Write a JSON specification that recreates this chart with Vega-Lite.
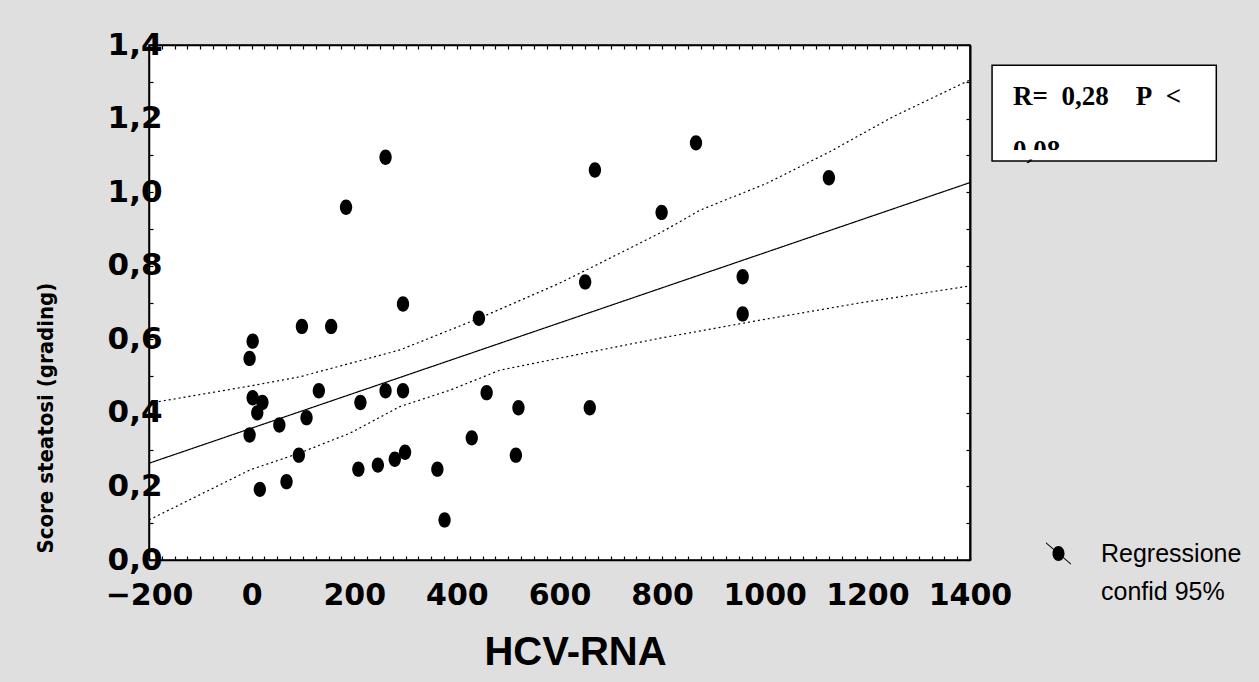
{
  "$schema": "https://vega.github.io/schema/vega-lite/v6.json",
  "width": 821,
  "height": 515,
  "autosize": {"type": "none"},
  "padding": {"left": 149, "top": 45, "right": 289, "bottom": 122},
  "background": "#dfdfdf",
  "config": {"view": {"fill": "white", "stroke": "black", "strokeWidth": 1.5}},
  "datasets": {
    "points": [
      {"x": 2, "y": 0.441}, {"x": 21, "y": 0.428}, {"x": 11, "y": 0.400}, {"x": -4, "y": 0.340},
      {"x": 16, "y": 0.192}, {"x": 2, "y": 0.595}, {"x": -4, "y": 0.548}, {"x": 54, "y": 0.367},
      {"x": 68, "y": 0.213}, {"x": 92, "y": 0.285}, {"x": 107, "y": 0.387}, {"x": 98, "y": 0.635},
      {"x": 131, "y": 0.460}, {"x": 155, "y": 0.635}, {"x": 184, "y": 0.959}, {"x": 208, "y": 0.247},
      {"x": 212, "y": 0.428}, {"x": 246, "y": 0.258}, {"x": 261, "y": 1.095}, {"x": 261, "y": 0.460},
      {"x": 279, "y": 0.274}, {"x": 299, "y": 0.293}, {"x": 295, "y": 0.696}, {"x": 295, "y": 0.460},
      {"x": 362, "y": 0.247}, {"x": 376, "y": 0.109}, {"x": 429, "y": 0.332}, {"x": 443, "y": 0.657},
      {"x": 458, "y": 0.455}, {"x": 515, "y": 0.285}, {"x": 520, "y": 0.414}, {"x": 669, "y": 1.060},
      {"x": 866, "y": 1.134}, {"x": 799, "y": 0.945}, {"x": 1125, "y": 1.039}, {"x": 650, "y": 0.756},
      {"x": 957, "y": 0.770}, {"x": 957, "y": 0.669}, {"x": 659, "y": 0.414}
    ],
    "curves": [
      {"serie": "fit", "x": -200, "y": 0.263}, {"serie": "fit", "x": 1400, "y": 1.026},
      {"serie": "upper", "x": -200, "y": 0.426}, {"serie": "upper", "x": -3, "y": 0.473},
      {"serie": "upper", "x": 94, "y": 0.498}, {"serie": "upper", "x": 289, "y": 0.571},
      {"serie": "upper", "x": 445, "y": 0.658}, {"serie": "upper", "x": 601, "y": 0.753},
      {"serie": "upper", "x": 679, "y": 0.807}, {"serie": "upper", "x": 796, "y": 0.889},
      {"serie": "upper", "x": 874, "y": 0.951}, {"serie": "upper", "x": 1004, "y": 1.024},
      {"serie": "upper", "x": 1127, "y": 1.110}, {"serie": "upper", "x": 1250, "y": 1.205},
      {"serie": "upper", "x": 1400, "y": 1.305},
      {"serie": "lower", "x": -200, "y": 0.109}, {"serie": "lower", "x": -3, "y": 0.245},
      {"serie": "lower", "x": 94, "y": 0.291}, {"serie": "lower", "x": 192, "y": 0.345},
      {"serie": "lower", "x": 289, "y": 0.417}, {"serie": "lower", "x": 387, "y": 0.462},
      {"serie": "lower", "x": 484, "y": 0.516}, {"serie": "lower", "x": 601, "y": 0.549},
      {"serie": "lower", "x": 796, "y": 0.603}, {"serie": "lower", "x": 991, "y": 0.652},
      {"serie": "lower", "x": 1186, "y": 0.699}, {"serie": "lower", "x": 1400, "y": 0.745}
    ]
  },
  "resolve": {"axis": {"x": "independent", "y": "independent"}},
  "layer": [
    {
      "data": {"name": "points"},
      "mark": {"type": "point", "shape": "M-0.8,0A0.8,1,0,1,1,0.8,0A0.8,1,0,1,1,-0.8,0Z", "filled": true, "color": "black", "size": 237, "opacity": 1},
      "encoding": {
        "x": {
          "field": "x", "type": "quantitative",
          "scale": {"domain": [-200, 1400], "nice": false, "zero": false},
          "axis": {
            "orient": "bottom",
            "values": [-200,-175,-150,-125,-100,-75,-50,-25,0,25,50,75,100,125,150,175,200,225,250,275,300,325,350,375,400,425,450,475,500,525,550,575,600,625,650,675,700,725,750,775,800,825,850,875,900,925,950,975,1000,1025,1050,1075,1100,1125,1150,1175,1200,1225,1250,1275,1300,1325,1350,1375,1400],
            "labelExpr": "datum.value % 200 == 0 ? format(datum.value, 'd') : ''",
            "labelOverlap": false, "labelBound": false, "labelFlush": false,
            "labelFont": "DejaVu Sans", "labelFontSize": 30, "labelFontWeight": "bold", "labelColor": "black",
            "labelPadding": 24, "labelDx": 6,
            "tickSize": -4, "tickColor": "black", "tickWidth": 1.2,
            "domainColor": "black", "domainWidth": 1.5, "grid": false,
            "title": "HCV-RNA", "titleFont": "Liberation Sans", "titleFontSize": 40, "titleFontWeight": "bold",
            "titleColor": "black", "titleY": 92, "titleX": 426, "titleBaseline": "middle"
          }
        },
        "y": {
          "field": "y", "type": "quantitative",
          "scale": {"domain": [0, 1.4], "nice": false, "zero": false},
          "axis": {
            "orient": "left",
            "values": [0, 0.1, 0.2, 0.3, 0.4, 0.5, 0.6, 0.7, 0.8, 0.9, 1.0, 1.1, 1.2, 1.3, 1.4],
            "labelExpr": "round(datum.value * 10) % 2 == 0 ? replace(format(datum.value, '.1f'), '.', ',') : ''",
            "labelOverlap": false, "labelBound": false, "labelFlush": false,
            "labelFont": "DejaVu Sans", "labelFontSize": 31, "labelFontWeight": "bold", "labelColor": "black",
            "labelPadding": -9,
            "tickSize": -4, "tickColor": "black", "tickWidth": 1.2,
            "domainColor": "black", "domainWidth": 1.5, "grid": false,
            "title": "Score steatosi (grading)", "titleFont": "DejaVu Sans Condensed, Liberation Sans", "titleFontSize": 22,
            "titleFontWeight": "bold", "titleColor": "black", "titleAnchor": "start", "titleX": -104, "titleY": 508, "titleBaseline": "middle"
          }
        }
      }
    },
    {
      "data": {"name": "curves"},
      "mark": {"type": "line", "color": "black", "strokeWidth": 1.2},
      "encoding": {
        "x": {
          "field": "x", "type": "quantitative",
          "scale": {"domain": [-200, 1400], "nice": false, "zero": false},
          "axis": {
            "orient": "top", "labels": false, "title": null, "grid": false,
            "values": [-200,-175,-150,-125,-100,-75,-50,-25,0,25,50,75,100,125,150,175,200,225,250,275,300,325,350,375,400,425,450,475,500,525,550,575,600,625,650,675,700,725,750,775,800,825,850,875,900,925,950,975,1000,1025,1050,1075,1100,1125,1150,1175,1200,1225,1250,1275,1300,1325,1350,1375,1400],
            "tickSize": -4, "tickColor": "black", "tickWidth": 1.2, "domainColor": "black", "domainWidth": 1.5
          }
        },
        "y": {
          "field": "y", "type": "quantitative",
          "scale": {"domain": [0, 1.4], "nice": false, "zero": false},
          "axis": {
            "orient": "right", "labels": false, "title": null, "grid": false,
            "values": [0, 0.1, 0.2, 0.3, 0.4, 0.5, 0.6, 0.7, 0.8, 0.9, 1.0, 1.1, 1.2, 1.3, 1.4],
            "tickSize": -4, "tickColor": "black", "tickWidth": 1.2, "domainColor": "black", "domainWidth": 2
          }
        },
        "detail": {"field": "serie", "type": "nominal"},
        "strokeDash": {
          "field": "serie", "type": "nominal",
          "scale": {"domain": ["fit", "upper", "lower"], "range": [[1, 0], [2, 3], [2, 3]]},
          "legend": null
        }
      }
    },
    {
      "data": {"name": "points"},
      "mark": {"type": "point", "filled": true, "color": "black", "opacity": 0},
      "encoding": {
        "x": {"field": "x", "type": "quantitative", "axis": null},
        "y": {"field": "y", "type": "quantitative", "axis": null},
        "shape": {
          "datum": "Regressione", "type": "nominal",
          "scale": {
            "domain": ["Regressione", "confid 95%"],
            "range": ["M-1,-0.9L1,0.8L1,0.9L-1,-0.8ZM-0.48,0A0.48,0.6,0,1,1,0.48,0A0.48,0.6,0,1,1,-0.48,0Z", "M0,0"]
          },
          "legend": {
            "orient": "none", "legendX": 896, "legendY": 495, "title": null,
            "labelFont": "Liberation Sans", "labelFontSize": 25, "labelColor": "black", "labelLimit": 300,
            "symbolSize": 625, "symbolOpacity": 1, "symbolFillColor": "black",
            "labelOffset": 29, "rowPadding": 10, "padding": 0
          }
        }
      }
    },
    {
      "data": {"values": [{"box": "R"}]},
      "mark": {"type": "rect", "fill": "white", "stroke": "black", "strokeWidth": 1.5},
      "encoding": {
        "x": {"datum": 1443, "type": "quantitative", "axis": null},
        "x2": {"datum": 1880},
        "y": {"datum": 1.345, "type": "quantitative", "axis": null},
        "y2": {"datum": 1.085}
      }
    },
    {
      "data": {"values": [{"note": "R=\u00a0\u00a00,28\u00a0\u00a0\u00a0\u00a0P\u00a0\u00a0<"}]},
      "mark": {"type": "text", "font": "Liberation Serif", "fontSize": 27, "fontWeight": "bold", "color": "black", "align": "left", "baseline": "alphabetic"},
      "encoding": {
        "x": {"datum": 1484, "type": "quantitative", "axis": null},
        "y": {"datum": 1.2367, "type": "quantitative", "axis": null},
        "text": {"field": "note"}
      }
    },
    {
      "data": {"values": [{"note": "0,08"}]},
      "mark": {"type": "text", "font": "Liberation Serif", "fontSize": 27, "fontWeight": "bold", "color": "black", "align": "left", "baseline": "alphabetic"},
      "encoding": {
        "x": {"datum": 1484, "type": "quantitative", "axis": null},
        "y": {"datum": 1.091, "type": "quantitative", "axis": null},
        "text": {"field": "note"}
      }
    },
    {
      "data": {"values": [{"box": "cover"}]},
      "mark": {"type": "rect", "fill": "white"},
      "encoding": {
        "x": {"datum": 1449, "type": "quantitative", "axis": null},
        "x2": {"datum": 1875},
        "y": {"datum": 1.1144, "type": "quantitative", "axis": null},
        "y2": {"datum": 1.089}
      }
    }
  ]
}
